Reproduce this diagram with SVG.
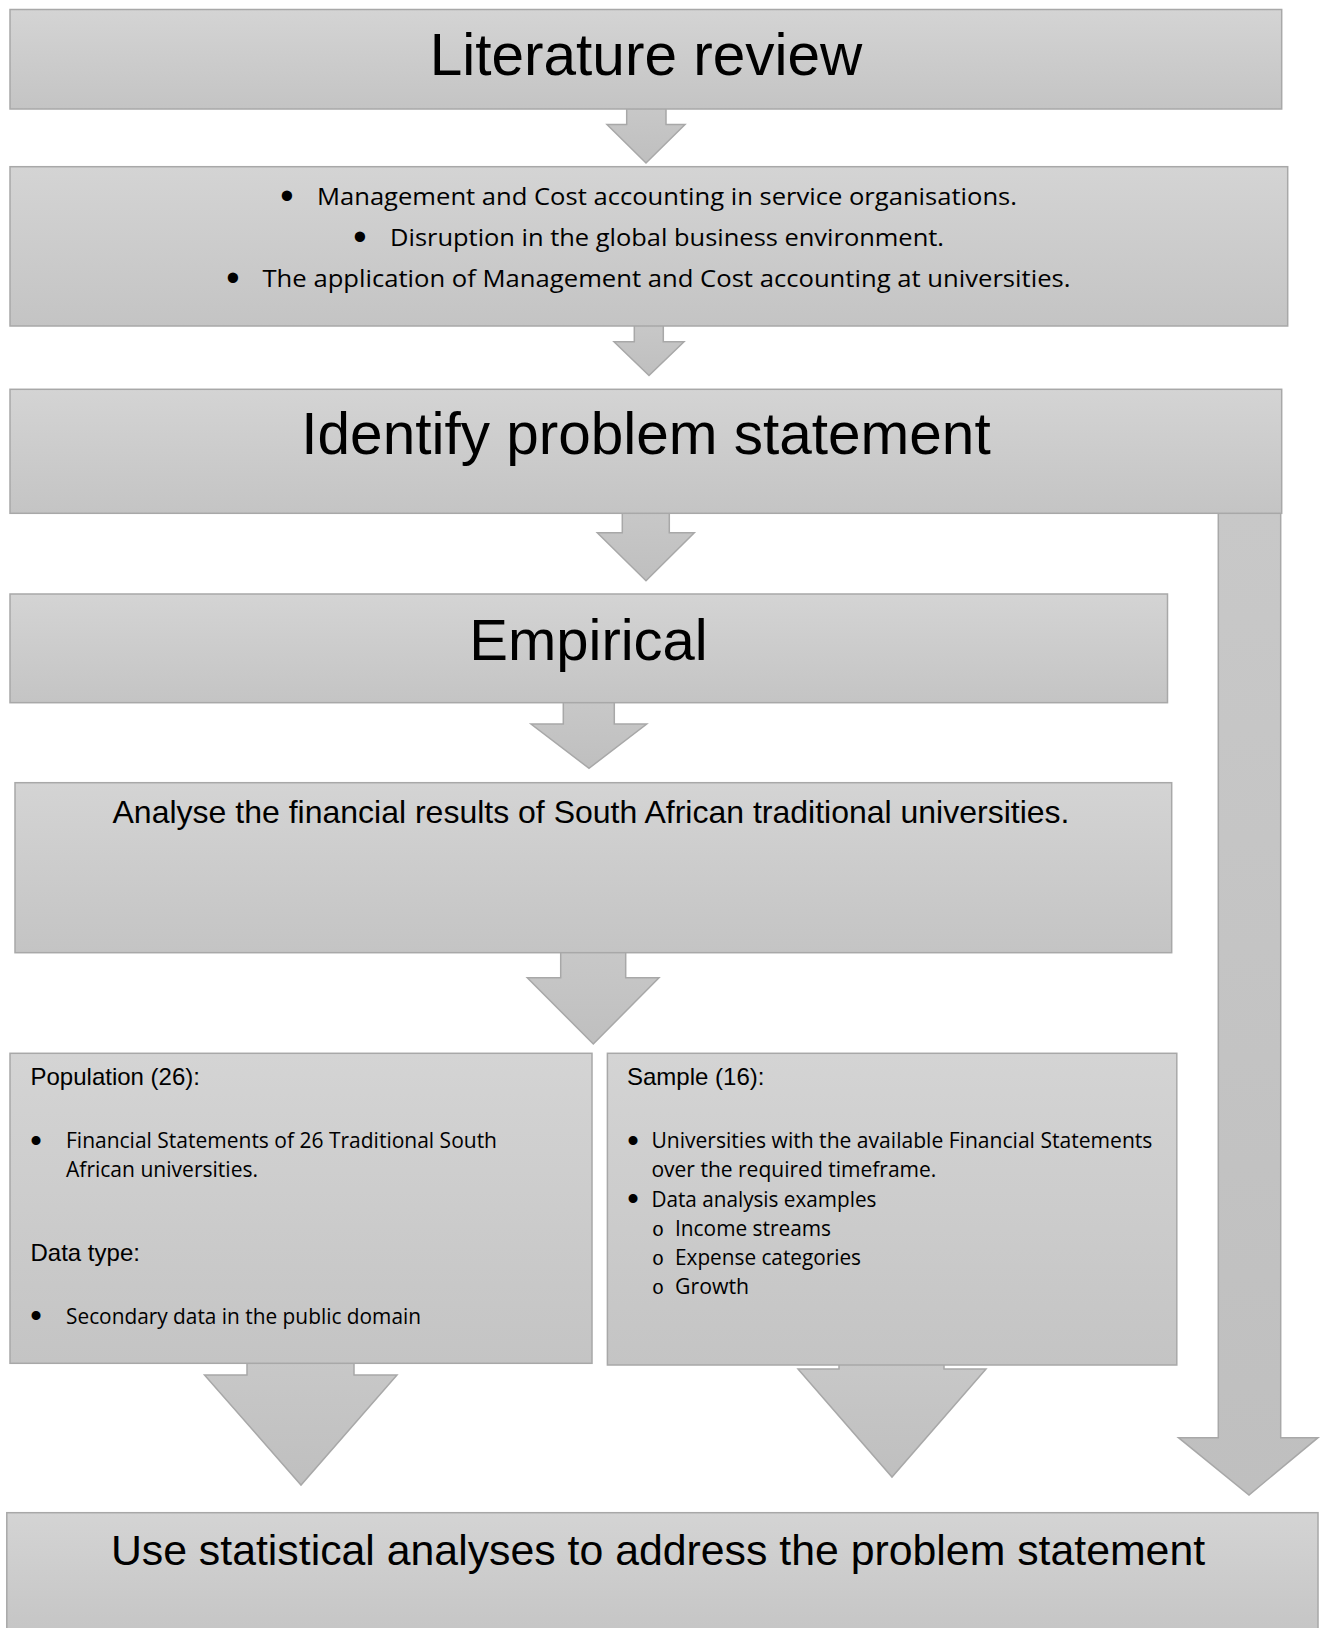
<svg xmlns="http://www.w3.org/2000/svg" width="1327" height="1628" viewBox="0 0 1327 1628">
<defs>
<linearGradient id="g" x1="0" y1="0" x2="0" y2="1">
<stop offset="0" stop-color="#d4d4d4"/>
<stop offset="1" stop-color="#c4c4c4"/>
</linearGradient>
<linearGradient id="ga" x1="0" y1="0" x2="0" y2="1">
<stop offset="0" stop-color="#c8c8c8"/>
<stop offset="1" stop-color="#bfbfbf"/>
</linearGradient>
<style>
.box{fill:url(#g);stroke:#a8a8a8;stroke-width:1.5}
.arrow{fill:url(#ga);stroke:#a8a8a8;stroke-width:1.5;stroke-linejoin:miter}
.h{font-family:"Liberation Sans",Arial,sans-serif;fill:#000}
.c{font-family:"Open Sans","Noto Sans",sans-serif;fill:#000}
.b{font-family:"Liberation Sans",Arial,sans-serif;fill:#000;text-anchor:middle}
.o{font-family:"Liberation Mono","Courier New",monospace;fill:#000}
</style>
</defs>
<rect width="1327" height="1628" fill="#ffffff"/>
<g id="connectors">
<path class="arrow" d="M626.7,106 L666,106 L666,124.5 L685,124.5 L646,163 L607,124.5 L626.7,124.5 Z"/>
<path class="arrow" d="M634.3,323 L663.3,323 L663.3,341.7 L684,341.7 L649,375.5 L614,341.7 L634.3,341.7 Z"/>
<path class="arrow" d="M622.3,510 L669.3,510 L669.3,532.7 L694.3,532.7 L646,580.7 L597.3,532.7 L622.3,532.7 Z"/>
<path class="arrow" d="M563.3,700 L614.3,700 L614.3,724 L646.7,724 L589,768.3 L531,724 L563.3,724 Z"/>
<path class="arrow" d="M560.7,950 L625.7,950 L625.7,977.7 L659,977.7 L593.3,1044 L527.3,977.7 L560.7,977.7 Z"/>
<path class="arrow" d="M247,1360 L354,1360 L354,1375 L397,1375 L301,1485 L204.5,1375 L247,1375 Z"/>
<path class="arrow" d="M839,1362 L944,1362 L944,1369 L986,1369 L892,1477 L798,1369 L839,1369 Z"/>
<path class="arrow" d="M1218.3,510 L1280.7,510 L1280.7,1437.7 L1318,1437.7 L1249,1495 L1178.5,1437.7 L1218.3,1437.7 Z"/>
</g>
<g id="literature-review">
<rect class="box" x="10" y="9.5" width="1271.7" height="99.5"/>
<text class="h" x="646" y="75" font-size="58.5" text-anchor="middle">Literature review</text>
</g>
<g id="literature-topics">
<rect class="box" x="10" y="166.7" width="1277.7" height="159.3"/>
<text class="b" x="287" y="209" font-size="38">•</text>
<text class="c" x="317" y="205" font-size="23.5" textLength="700" lengthAdjust="spacingAndGlyphs">Management and Cost accounting in service organisations.</text>
<text class="b" x="360" y="250" font-size="38">•</text>
<text class="c" x="390" y="246" font-size="23.5" textLength="554" lengthAdjust="spacingAndGlyphs">Disruption in the global business environment.</text>
<text class="b" x="233" y="291" font-size="38">•</text>
<text class="c" x="262.5" y="287" font-size="23.5" textLength="808" lengthAdjust="spacingAndGlyphs">The application of Management and Cost accounting at universities.</text>
</g>
<g id="problem-statement">
<rect class="box" x="10" y="389.3" width="1271.7" height="124"/>
<text class="h" x="646" y="454" font-size="58.5" text-anchor="middle">Identify problem statement</text>
</g>
<g id="empirical">
<rect class="box" x="10" y="594" width="1157.5" height="108.7"/>
<text class="h" x="588.5" y="659.5" font-size="58" text-anchor="middle">Empirical</text>
</g>
<g id="analyse">
<rect class="box" x="15" y="782.7" width="1156.7" height="170"/>
<text class="h" x="591" y="822.5" font-size="32" text-anchor="middle">Analyse the financial results of South African traditional universities.</text>
</g>
<g id="population">
<rect class="box" x="10" y="1053.3" width="582" height="310"/>
<text class="h" x="30.5" y="1085" font-size="24">Population (26):</text>
<text class="b" x="36" y="1151.5" font-size="33">•</text>
<text class="c" x="66" y="1148" font-size="21.5" textLength="431" lengthAdjust="spacingAndGlyphs">Financial Statements of 26 Traditional South</text>
<text class="c" x="66" y="1177" font-size="21.5" textLength="192" lengthAdjust="spacingAndGlyphs">African universities.</text>
<text class="h" x="30.5" y="1261" font-size="24">Data type:</text>
<text class="b" x="36" y="1327" font-size="33">•</text>
<text class="c" x="66" y="1323.5" font-size="21.5" textLength="355" lengthAdjust="spacingAndGlyphs">Secondary data in the public domain</text>
</g>
<g id="sample">
<rect class="box" x="607.4" y="1053.3" width="569.4" height="311.7"/>
<text class="h" x="627" y="1085" font-size="24">Sample (16):</text>
<text class="b" x="633" y="1151.5" font-size="33">•</text>
<text class="c" x="651.4" y="1148" font-size="21.5" textLength="501" lengthAdjust="spacingAndGlyphs">Universities with the available Financial Statements</text>
<text class="c" x="651.4" y="1177" font-size="21.5" textLength="285" lengthAdjust="spacingAndGlyphs">over the required timeframe.</text>
<text class="b" x="633" y="1210" font-size="33">•</text>
<text class="c" x="651.4" y="1206.5" font-size="21.5" textLength="225" lengthAdjust="spacingAndGlyphs">Data analysis examples</text>
<text class="o" x="652" y="1235.5" font-size="20">o</text>
<text class="c" x="675" y="1235.5" font-size="21.5" textLength="156" lengthAdjust="spacingAndGlyphs">Income streams</text>
<text class="o" x="652" y="1264.5" font-size="20">o</text>
<text class="c" x="675" y="1264.5" font-size="21.5" textLength="186" lengthAdjust="spacingAndGlyphs">Expense categories</text>
<text class="o" x="652" y="1293.5" font-size="20">o</text>
<text class="c" x="675" y="1293.5" font-size="21.5" textLength="74" lengthAdjust="spacingAndGlyphs">Growth</text>
</g>
<g id="statistical-analyses">
<rect class="box" x="6.8" y="1512.7" width="1311.2" height="130"/>
<text class="h" x="658" y="1565" font-size="42.8" text-anchor="middle">Use statistical analyses to address the problem statement</text>
</g>
</svg>
